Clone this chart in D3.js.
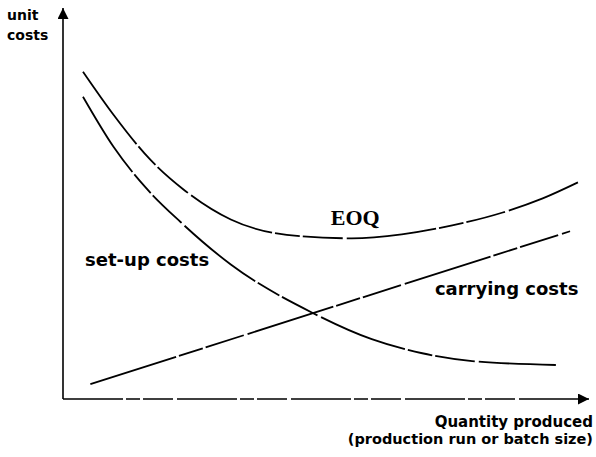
<!DOCTYPE html>
<html>
<head>
<meta charset="utf-8">
<script src="https://cdn.jsdelivr.net/npm/d3@7"></script>
<style>
  body { margin: 0; background: #fff; }
  text { font-family: "DejaVu Sans", sans-serif; font-weight: bold; fill: #000; }
</style>
</head>
<body>
<div id="graph"></div>
<script>
var width = 596;
var height = 457;

// quantity produced (x) and unit cost (y), 0..10 both ways
var eoqX = [0.38, 0.96, 1.66, 2.29, 3.19, 4.53, 5.49, 6.44, 7.40, 8.36, 9.12, 9.79];
var eoqY = [8.37, 7.27, 6.12, 5.36, 4.59, 4.16, 4.11, 4.21, 4.44, 4.77, 5.13, 5.54];

var setupX = [0.38, 0.96, 1.57, 2.24, 3.19, 4.72, 5.87, 6.83, 7.78, 9.37];
var setupY = [7.73, 6.45, 5.41, 4.52, 3.44, 2.22, 1.53, 1.17, 0.97, 0.87];

var carryX = [0.52, 9.64];
var carryY = [0.38, 4.29];

var labels = [
  { text: 'EOQ', x: 5.09, y: 4.46, serif: true },
  { text: 'set-up costs', x: 0.42, y: 3.39 },
  { text: 'carrying costs', x: 7.07, y: 2.65 }
];

var x = d3.scaleLinear().domain([0, 10]).range([63, 589]);
var y = d3.scaleLinear().domain([0, 10]).range([399, 8]);

var svg = d3.select('#graph').append('svg')
  .attr('width', width).attr('height', height);

// arrow head for axes
svg.append('defs').append('marker')
  .attr('id', 'arrow')
  .attr('viewBox', '0 -5 10 10')
  .attr('refX', 10)
  .attr('refY', 0)
  .attr('markerWidth', 11)
  .attr('markerHeight', 11)
  .attr('markerUnits', 'userSpaceOnUse')
  .attr('orient', 'auto')
  .append('path')
    .attr('d', 'M0,-5 L10,0 L0,5 Z')
    .attr('fill', 'black');

var xAxis = svg.append('g')
  .attr('transform', 'translate(0,' + y(0) + ')')
  .call(d3.axisBottom(x).tickValues([]).tickSizeOuter(0));
var yAxis = svg.append('g')
  .attr('transform', 'translate(' + x(0) + ',0)')
  .call(d3.axisLeft(y).tickValues([]).tickSizeOuter(0));

// axes run from origin toward the arrow
xAxis.select('.domain')
  .attr('d', 'M' + x(0) + ',0H' + x(10))
  .attr('stroke-width', 1.6)
  .attr('stroke-dasharray', '60 3 14 3 30 4')
  .attr('marker-end', 'url(#arrow)');
yAxis.select('.domain')
  .attr('d', 'M0,' + y(0) + 'V' + y(10))
  .attr('stroke-width', 1.6)
  .attr('marker-end', 'url(#arrow)');

var line = d3.line()
  .x(function(d){ return x(d[0]); })
  .y(function(d){ return y(d[1]); })
  .curve(d3.curveMonotoneX);

var curves = [
  d3.zip(eoqX, eoqY),
  d3.zip(setupX, setupY),
  d3.zip(carryX, carryY)
];

svg.selectAll('path.curve')
  .data(curves)
  .enter()
  .append('path')
  .attr('class', 'curve')
  .attr('d', line)
  .attr('fill', 'none')
  .attr('stroke', 'black')
  .attr('stroke-width', 1.8)
  .attr('stroke-dasharray', '90 3 25 3 40 4');

svg.selectAll('text.lab')
  .data(labels)
  .enter()
  .append('text')
  .attr('class', 'lab')
  .attr('x', function(d){ return x(d.x); })
  .attr('y', function(d){ return y(d.y); })
  .style('font-family', function(d){ return d.serif ? '"Liberation Serif", serif' : null; })
  .style('font-size', function(d){ return d.serif ? '22px' : '18px'; })
  .text(function(d){ return d.text; });

// axis titles
svg.append('text').attr('x', 7).attr('y', 20).style('font-size', '14px').text('unit');
svg.append('text').attr('x', 7).attr('y', 40).style('font-size', '14px').text('costs');

svg.append('text').attr('x', 593).attr('y', 427).attr('text-anchor', 'end')
  .style('font-size', '15px').text('Quantity produced');
svg.append('text').attr('x', 593).attr('y', 444).attr('text-anchor', 'end')
  .style('font-size', '14.5px').text('(production run or batch size)');
</script>
</body>
</html>
